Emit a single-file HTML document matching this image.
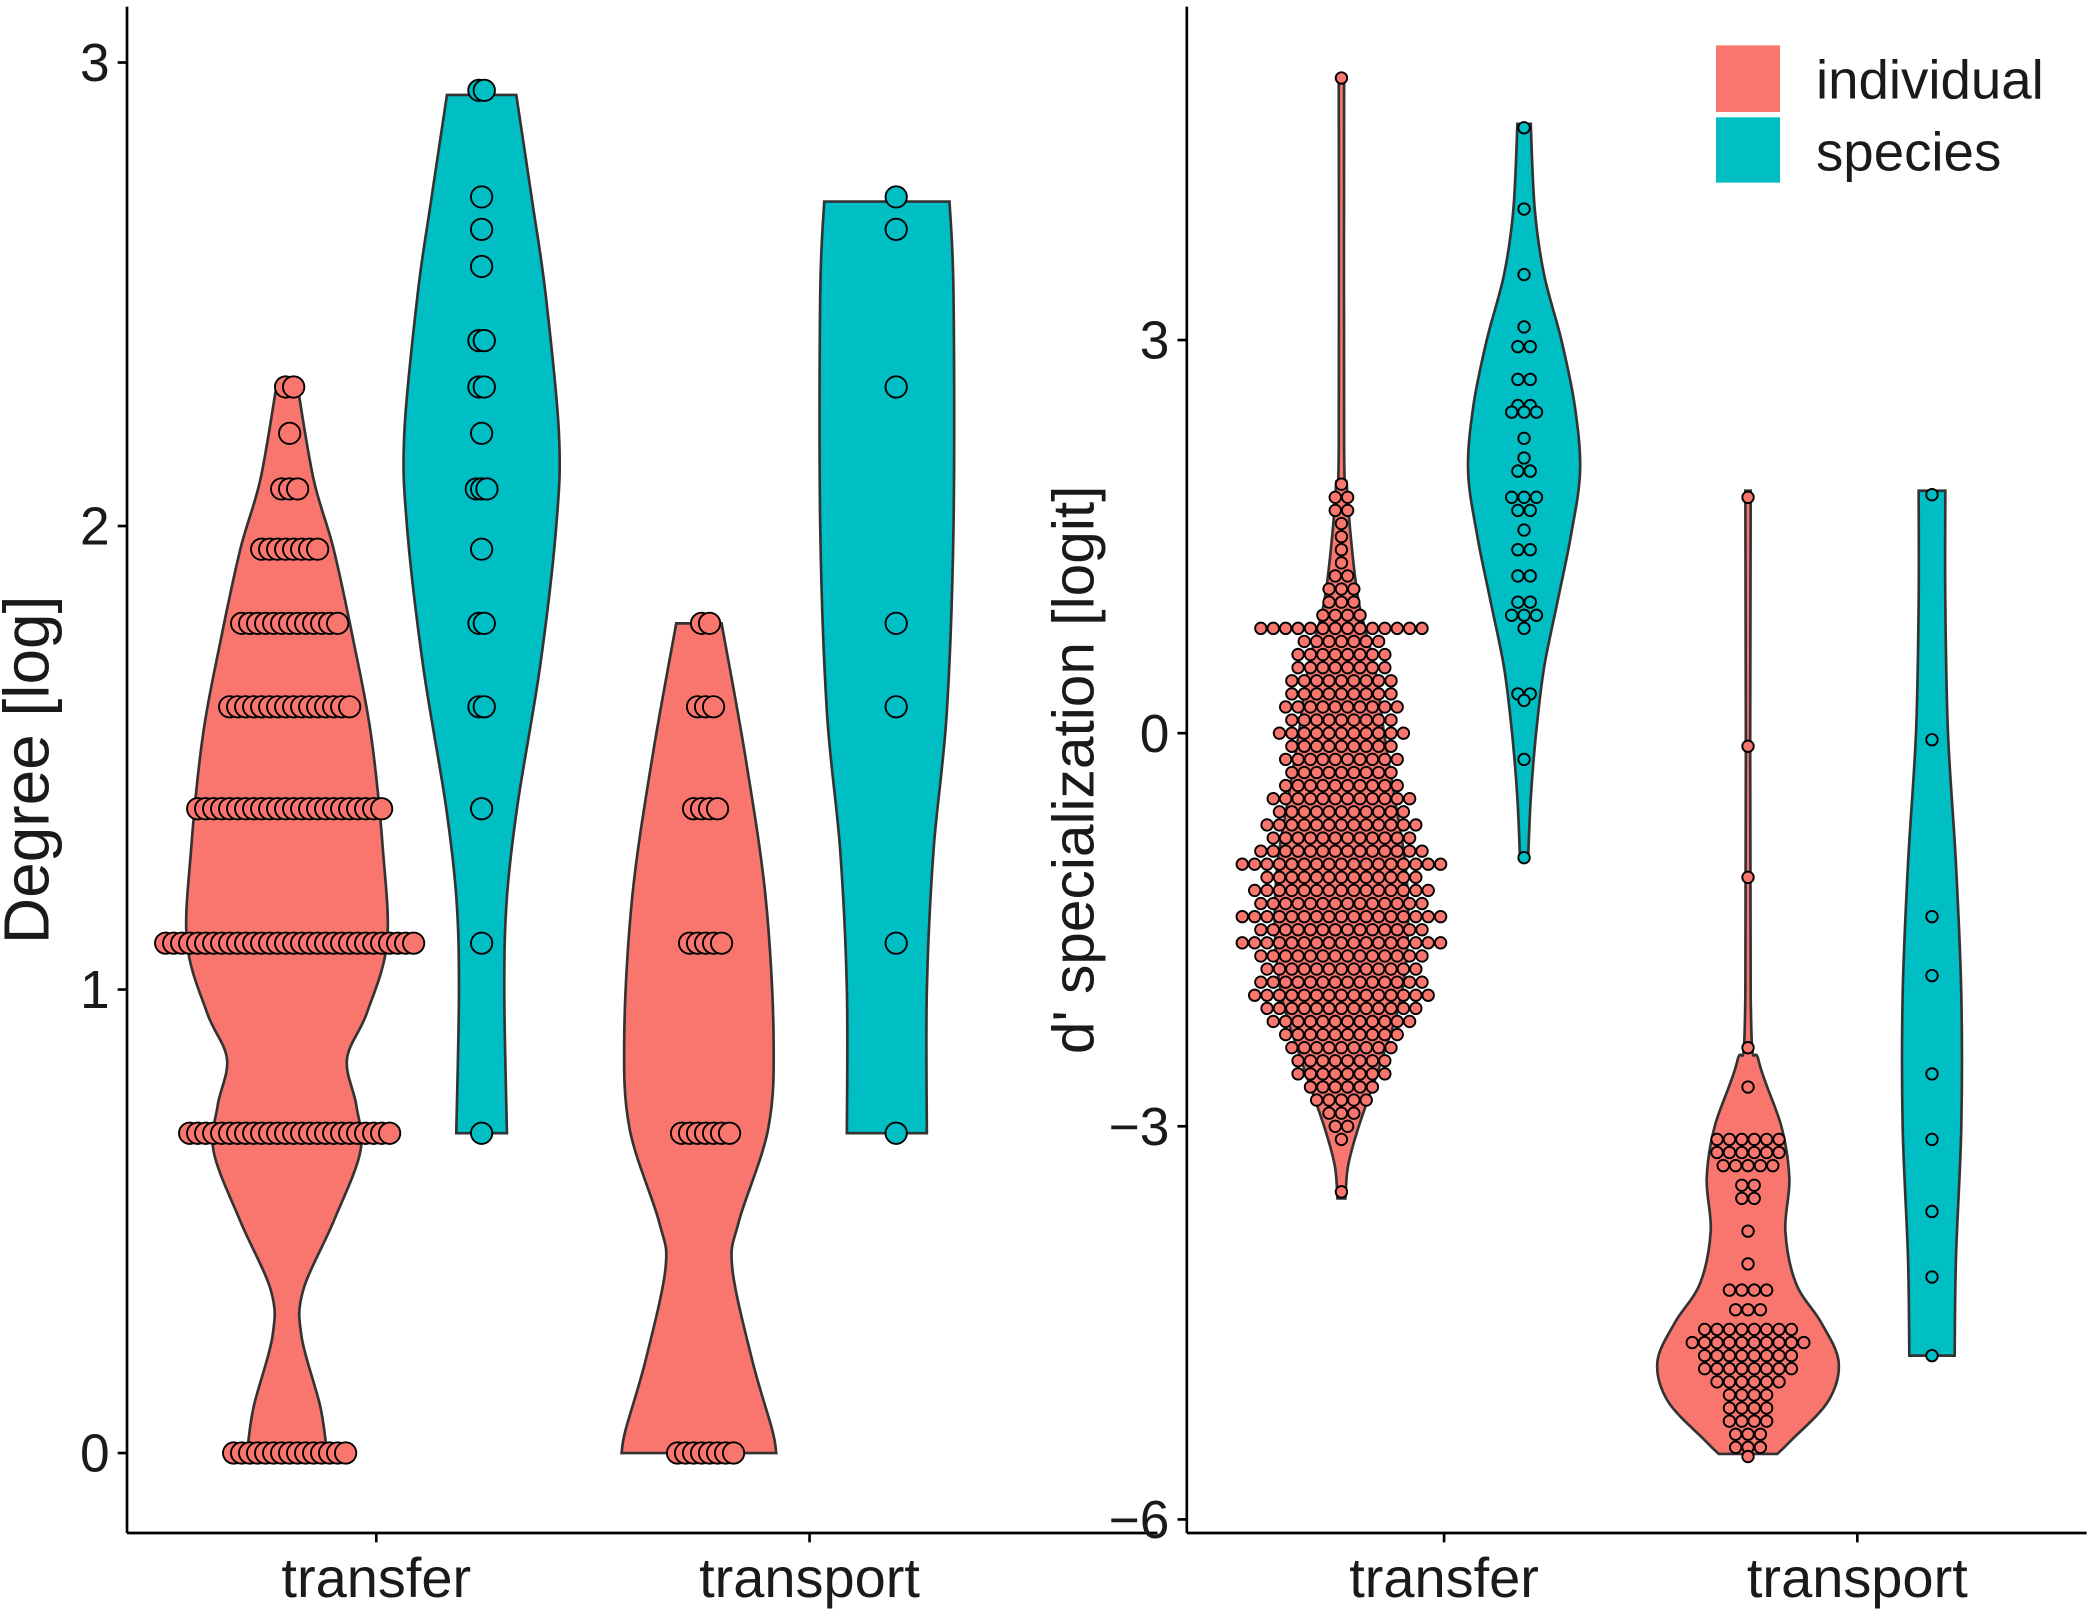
<!DOCTYPE html>
<html><head><meta charset="utf-8"><style>
html,body{margin:0;padding:0;background:#fff}
svg{display:block}
text{font-family:"Liberation Sans",sans-serif;fill:#1a1a1a}
</style></head><body>
<svg id="chart" width="2091" height="1613" viewBox="0 0 1568 1210" xmlns="http://www.w3.org/2000/svg">
<g id="left"></g>
<g id="right"></g>
<g>
<rect x="1287" y="34" width="48" height="50" fill="#F8766D"/>
<rect x="1287" y="88" width="48" height="49" fill="#00BFC4"/>
<text x="1362" y="74" font-size="41">individual</text>
<text x="1362" y="128" font-size="41">species</text>
</g>
</svg>
<script>
// ---- data: left panel (Degree [log]) ----
const categories = ["transfer", "transport"];
const leftTicks = [0, 1, 2, 3];
const rightTicks = [-6, -3, 0, 3];
// violin profiles: [value, half-width]
const degTransferInd = [[2.3,8],[2.1,20],[1.95,35],[1.75,50],[1.55,63],[1.3,72],[1.1,75],[0.95,60],[0.85,45],[0.75,52],[0.65,55],[0.5,35],[0.35,12],[0.25,11],[0.1,25],[0,30]];
const degTransferSp = [[2.93,26],[2.7,38],[2.5,48],[2.2,58],[2.0,56],[1.7,44],[1.4,27],[1.2,19],[1.0,17],[0.69,19]];
const degTransportInd = [[1.79,17],[1.5,35],[1.2,50],[0.9,56],[0.7,52],[0.5,30],[0.4,25],[0.2,40],[0.05,55],[0,58]];
const degTransportSp = [[2.7,47],[2.5,50],[2.0,50],[1.6,45],[1.3,35],[1.0,30],[0.69,30]];
const degIndLevelsTransfer = [0,0.69,1.1,1.39,1.61,1.79,1.95,2.08,2.2,2.3];
const degIndCountsTransfer = [15,26,32,24,16,13,8,3,1,2];
const degIndLevelsTransport = [0,0.69,1.1,1.39,1.61,1.79];
const degIndCountsTransport = [8,7,5,4,3,2];
const degSpTransfer = [2.94,2.94,2.71,2.64,2.56,2.40,2.40,2.30,2.30,2.20,2.08,2.08,2.08,1.95,1.79,1.79,1.61,1.61,1.39,1.10,0.69];
const degSpTransport = [2.71,2.64,2.30,1.79,1.61,1.10,0.69];

// ---- data: right panel (d' specialization [logit]) ----
const dTransferInd = [[5.0,2],[2.2,2],[1.9,4],[1.5,7],[1.0,13],[0.5,25],[0,32],[-0.5,40],[-1,48],[-1.5,50],[-2,45],[-2.5,30],[-3,13],[-3.3,5],[-3.55,3]];
const dTransferSp = [[4.65,5],[4.0,8],[3.5,15],[3.0,28],[2.5,38],[2.0,42],[1.5,35],[1.0,25],[0.5,15],[0,9],[-0.5,5],[-0.97,3]];
const dTransportInd = [[1.85,2],[-2.0,2],[-2.5,8],[-3.0,25],[-3.4,31],[-3.8,28],[-4.2,36],[-4.5,55],[-4.8,68],[-5.1,60],[-5.4,32],[-5.5,22]];
const dTransportSp = [[1.85,10],[1.0,10],[0,12],[-1,18],[-2,22],[-3,22],[-4,18],[-4.75,17]];
const dIndBinsTransfer = [5.0,1.9,1.8,1.7,1.6,1.5,1.4,1.3,1.2,1.1,1.0,0.9,0.8,0.7,0.6,0.5,0.4,0.3,0.2,0.1,0.0,-0.1,-0.2,-0.3,-0.4,-0.5,-0.6,-0.7,-0.8,-0.9,-1.0,-1.1,-1.2,-1.3,-1.4,-1.5,-1.6,-1.7,-1.8,-1.9,-2.0,-2.1,-2.2,-2.3,-2.4,-2.5,-2.6,-2.7,-2.8,-2.9,-3.0,-3.1,-3.5];
const dIndCountsTransfer = [1,1,2,2,1,1,1,1,2,3,3,4,14,7,8,8,9,9,10,9,11,9,10,9,10,12,11,13,12,14,17,13,15,14,17,14,17,14,13,14,15,13,12,10,9,8,8,6,5,3,2,1,1];
const dIndBinsTransport = [1.8,-0.1,-1.1,-2.4,-2.7,-3.1,-3.2,-3.3,-3.45,-3.55,-3.8,-4.05,-4.25,-4.4,-4.55,-4.65,-4.75,-4.85,-4.95,-5.05,-5.15,-5.25,-5.35,-5.45,-5.52];
const dIndCountsTransport = [1,1,1,1,1,6,6,5,2,2,1,1,4,3,8,10,8,8,6,4,4,4,3,3,1];
const dSpTransfer = [4.62,4.0,3.5,3.1,2.95,2.95,2.7,2.7,2.5,2.5,2.45,2.45,2.45,2.25,2.1,2.0,2.0,1.8,1.8,1.8,1.7,1.7,1.55,1.4,1.4,1.2,1.2,1.0,1.0,0.9,0.9,0.9,0.8,0.3,0.3,0.25,-0.2,-0.95];
const dSpTransport = [1.82,-0.05,-1.4,-1.85,-2.6,-3.1,-3.65,-4.15,-4.75];

const NS = "http://www.w3.org/2000/svg";
const RED = "#F8766D", TEAL = "#00BFC4";
function mk(parent, tag, attrs) {
  const e = document.createElementNS(NS, tag);
  for (const k in attrs) e.setAttribute(k, attrs[k]);
  parent.appendChild(e);
  return e;
}
function violinPath(prof, cx, ys) {
  const R = prof.map(p => [cx + p[1], ys(p[0])]);
  const L = prof.slice().reverse().map(p => [cx - p[1], ys(p[0])]);
  function smooth(pts) {
    let d = "";
    for (let i = 0; i < pts.length - 1; i++) {
      const p0 = pts[Math.max(0, i - 1)], p1 = pts[i], p2 = pts[i + 1], p3 = pts[Math.min(pts.length - 1, i + 2)];
      const c1 = [p1[0] + (p2[0] - p0[0]) / 6, p1[1] + (p2[1] - p0[1]) / 6];
      const c2 = [p2[0] - (p3[0] - p1[0]) / 6, p2[1] - (p3[1] - p1[1]) / 6];
      d += ` C${c1[0]},${c1[1]} ${c2[0]},${c2[1]} ${p2[0]},${p2[1]}`;
    }
    return d;
  }
  return `M${L[L.length-1][0]},${L[L.length-1][1]} L${R[0][0]},${R[0][1]}` + smooth(R) + ` L${L[0][0]},${L[0][1]}` + smooth(L) + " Z";
}
function drawViolin(g, prof, cx, ys, fill, name) {
  const p = mk(g, "path", {d: violinPath(prof, cx, ys), fill: fill, stroke: "#333", "stroke-width": 2});
  
  
}
function drawRows(g, levels, counts, cx, ys, step, r, fill, name) {
  levels.forEach((v, j) => {
    const n = counts[j];
    for (let i = 0; i < n; i++) {
      const c = mk(g, "circle", {cx: cx + (i - (n - 1) / 2) * step, cy: ys(v), r: r, fill: fill, stroke: "#000", "stroke-width": 1.4});
      
      
    }
  });
}
function drawList(g, vals, cx, ys, r, fill, name, spread) {
  const counts = {};
  vals.forEach(v => {
    const k = v.toFixed(2);
    counts[k] = (counts[k] || 0) + 1;
  });
  const seen = {};
  vals.forEach(v => {
    const k = v.toFixed(2);
    const n = counts[k];
    const i = seen[k] = (seen[k] === undefined ? 0 : seen[k] + 1);
    const c = mk(g, "circle", {cx: cx + (i - (n - 1) / 2) * spread, cy: ys(v), r: r, fill: fill, stroke: "#000", "stroke-width": 1.4});
    
    
  });
}
function axes(g, x0, x1, yTop, yBot, ticks, ys, catX, title, titleX, titleSize) {
  let e = mk(g, "line", {x1: x0, y1: yTop, x2: x0, y2: yBot, stroke: "#000", "stroke-width": 2});
   
  e = mk(g, "line", {x1: x0, y1: yBot, x2: x1, y2: yBot, stroke: "#000", "stroke-width": 2});
   
  ticks.forEach(t => {
    const y = ys(t);
    let l = mk(g, "line", {x1: x0 - 7, y1: y, x2: x0, y2: y, stroke: "#000", "stroke-width": 2});
     
    const tx = mk(g, "text", {x: x0 - 13, y: y + 14, "font-size": 40, "text-anchor": "end"});
    tx.textContent = t < 0 ? "\u2212" + Math.abs(t) : String(t);
     
  });
  categories.forEach((c, i) => {
    let l = mk(g, "line", {x1: catX[i], y1: yBot, x2: catX[i], y2: yBot + 7, stroke: "#000", "stroke-width": 2});
     
    const tx = mk(g, "text", {x: catX[i], y: yBot + 48, "font-size": 42, "text-anchor": "middle"});
    tx.textContent = c;
     
  });
  const cy = (yTop + yBot) / 2;
  const t = mk(g, "text", {x: titleX, y: cy, "font-size": titleSize, "text-anchor": "middle", transform: `rotate(-90 ${titleX} ${cy})`});
  t.textContent = title;
   
}

// left panel
const gl = document.getElementById("left");
const ysL = v => 1090 - v * 347.7;
const catXL = [282, 607];
drawViolin(gl, degTransferInd, catXL[0] - 67, ysL, RED, "violin-transfer-individual");
drawViolin(gl, degTransferSp, catXL[0] + 79, ysL, TEAL, "violin-transfer-species");
drawViolin(gl, degTransportInd, catXL[1] - 83, ysL, RED, "violin-transport-individual");
drawViolin(gl, degTransportSp, catXL[1] + 58, ysL, TEAL, "violin-transport-species");
drawRows(gl, degIndLevelsTransfer, degIndCountsTransfer, catXL[0] - 65, ysL, 6, 8, RED, "dot-transfer-individual");
drawRows(gl, degIndLevelsTransport, degIndCountsTransport, catXL[1] - 78, ysL, 6, 8, RED, "dot-transport-individual");
drawList(gl, degSpTransfer, catXL[0] + 79, ysL, 8, TEAL, "dot-transfer-species", 4);
drawList(gl, degSpTransport, catXL[1] + 65, ysL, 8, TEAL, "dot-transport-species", 4);
axes(gl, 95, 868, 5, 1150, leftTicks, ysL, catXL, "Degree [log]", 36, 48);

// right panel
const gr = document.getElementById("right");
const ysR = v => 550 - v * 98.3;
const catXR = [1083, 1393];
drawViolin(gr, dTransferInd, catXR[0] - 77, ysR, RED, "violin-transfer-individual");
drawViolin(gr, dTransferSp, catXR[0] + 60, ysR, TEAL, "violin-transfer-species");
drawViolin(gr, dTransportInd, catXR[1] - 82, ysR, RED, "violin-transport-individual");
drawViolin(gr, dTransportSp, catXR[1] + 56, ysR, TEAL, "violin-transport-species");
drawRows(gr, dIndBinsTransfer, dIndCountsTransfer, catXR[0] - 77, ysR, 9.3, 4.3, RED, "dot-transfer-individual");
drawRows(gr, dIndBinsTransport, dIndCountsTransport, catXR[1] - 82, ysR, 9.3, 4.3, RED, "dot-transport-individual");
drawList(gr, dSpTransfer, catXR[0] + 60, ysR, 4.3, TEAL, "dot-transfer-species", 9.3);
drawList(gr, dSpTransport, catXR[1] + 56, ysR, 4.3, TEAL, "dot-transport-species", 9.3);
axes(gr, 890, 1565, 5, 1150, rightTicks, ysR, catXR, "d' specialization [logit]", 820, 44);
</script>
</body></html>
